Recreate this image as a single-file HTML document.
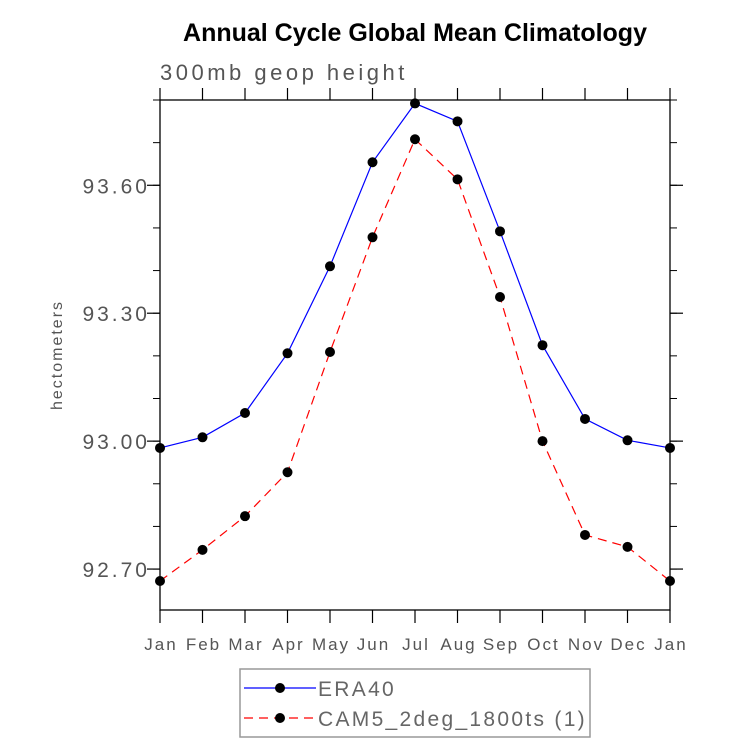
<!DOCTYPE html>
<html><head><meta charset="utf-8"><style>
body{margin:0;background:#fff}
svg{display:block}
text{font-family:"Liberation Sans",sans-serif}
</style></head><body>
<svg id="c" width="733" height="744" xmlns="http://www.w3.org/2000/svg">
<text x="415" y="41" text-anchor="middle" font-weight="bold" font-size="25" fill="#000">Annual Cycle Global Mean Climatology</text>
<text x="160" y="80" font-size="22" letter-spacing="3.5" fill="#555">300mb geop height</text>
<text transform="translate(62,355) rotate(-90)" text-anchor="middle" font-size="16" letter-spacing="2" fill="#555">hectometers</text>
<g id="axes"></g>
<g id="series"></g>
<rect x="240" y="669" width="350" height="68" fill="none" stroke="#999" stroke-width="1.5"/>
<g>
<line x1="244" y1="688" x2="316" y2="688" stroke="#00f" stroke-width="1.2"/>
<circle cx="280" cy="688" r="5" fill="#000"/>
<text x="318" y="696" font-size="21" letter-spacing="2.3" fill="#666">ERA40</text></g>
<g>
<line x1="244" y1="718" x2="316" y2="718" stroke="#f00" stroke-width="1.2" stroke-dasharray="9,6"/>
<circle cx="280" cy="718" r="5" fill="#000"/>
<text x="318" y="726" font-size="21" letter-spacing="2.3" fill="#666">CAM5_2deg_1800ts (1)</text></g>
</svg>
<script>
const months=["Jan","Feb","Mar","Apr","May","Jun","Jul","Aug","Sep","Oct","Nov","Dec","Jan"];
const era40=[92.984,93.009,93.066,93.206,93.41,93.654,93.792,93.75,93.492,93.225,93.052,93.002,92.984];
const cam5=[92.672,92.745,92.824,92.927,93.209,93.478,93.708,93.614,93.338,93.0,92.78,92.752,92.672];
const yTicks=[92.70,93.00,93.30,93.60];
const yMin=92.604,yMax=93.8,L=160,R=670,T=100,B=610;
const NS="http://www.w3.org/2000/svg";
const xs=i=>L+(R-L)*i/(months.length-1);
const ys=v=>B-(v-yMin)/(yMax-yMin)*(B-T);
function mk(tag,a,p){const e=document.createElementNS(NS,tag);for(const k in a)e.setAttribute(k,a[k]);p.appendChild(e);return e;}
const ax=document.getElementById('axes');
const fr=mk('rect',{x:L,y:T,width:R-L,height:B-T,fill:'none',stroke:'#000','stroke-width':1.3},ax);


months.forEach((m,i)=>{const x=xs(i);
mk('line',{x1:x,y1:B,x2:x,y2:B+13,stroke:'#000','stroke-width':1.2},ax);
mk('line',{x1:x,y1:T,x2:x,y2:T-12,stroke:'#000','stroke-width':1.2},ax);
const t=mk('text',{x:x+1,y:B+40,'text-anchor':'middle','font-size':17,'letter-spacing':2,fill:'#555'},ax);t.textContent=m;

});
for(let v=92.7;v<=93.8;v+=0.1){const y=ys(v);if(y<T-1)break;
mk('line',{x1:L,y1:y,x2:L-7,y2:y,stroke:'#000','stroke-width':1},ax);
mk('line',{x1:R,y1:y,x2:R+7,y2:y,stroke:'#000','stroke-width':1},ax);}
yTicks.forEach(v=>{const y=ys(v);
mk('line',{x1:L,y1:y,x2:L-13,y2:y,stroke:'#000','stroke-width':1.2},ax);
mk('line',{x1:R,y1:y,x2:R+13,y2:y,stroke:'#000','stroke-width':1.2},ax);
const t=mk('text',{x:L-10,y:y+8,'text-anchor':'end','font-size':21,'letter-spacing':3,fill:'#555'},ax);t.textContent=v.toFixed(2);

});
const sg=document.getElementById('series');
function series(d,col,dash,name){
const p=mk('polyline',{points:d.map((v,i)=>xs(i)+','+ys(v)).join(' '),fill:'none',stroke:col,'stroke-width':1.2,'stroke-dasharray':dash},sg);


d.forEach((v,i)=>{const c=mk('circle',{cx:xs(i),cy:ys(v),r:5,fill:'#000'},sg);

});}
series(era40,'#00f','none','era40');
series(cam5,'#f00','9,6','cam5');
</script>
</body></html>
